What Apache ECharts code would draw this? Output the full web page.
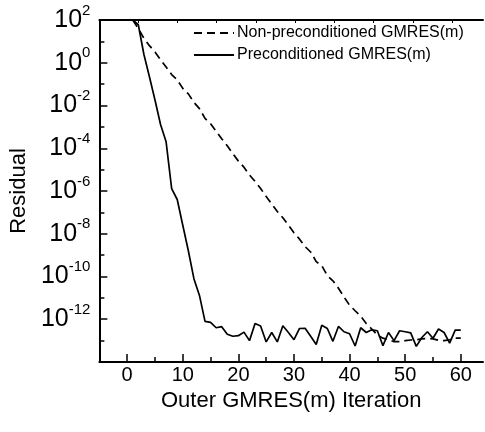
<!DOCTYPE html>
<html>
<head>
<meta charset="utf-8">
<script src="https://cdn.jsdelivr.net/npm/echarts@6/dist/echarts.min.js"></script>
<style>
html,body{margin:0;padding:0;background:#fff;}
#chart{width:485px;height:432px;}
</style>
</head>
<body>
<div id="chart"></div>
<script>
const iterations = [1,2,3,4,5,6,7,8,9,10,11,12,13,14,15,16,17,18,19,20,
  21,22,23,24,25,26,27,28,29,30,31,32,33,34,35,36,37,38,39,40,
  41,42,43,44,45,46,47,48,49,50,51,52,53,54,55,56,57,58,59,60];

const nonPreconditioned = [100,40,14,6.3,3.2,1.4,0.63,0.28,0.16,0.063,
  0.035,0.014,7.1e-3,2.5e-3,1.4e-3,6.3e-4,2.8e-4,1.3e-4,5.6e-5,2.5e-5,
  1.3e-5,5.6e-6,2.8e-6,1.3e-6,5.6e-7,2.5e-7,1.1e-7,5.6e-8,2.5e-8,1.1e-8,
  5.6e-9,2.5e-9,1.4e-9,5.0e-10,3.2e-10,1.1e-10,6.3e-11,2.8e-11,1.1e-11,4.5e-12,
  2.5e-12,1.4e-12,6.3e-13,3.5e-13,1.8e-13,1.3e-13,1.1e-13,8.9e-14,8.9e-14,1.0e-13,
  1.07e-13,1.1e-13,1.2e-13,1.26e-13,1.2e-13,1.05e-13,1.0e-13,1.1e-13,1.3e-13,1.3e-13];

const preconditioned = [100,60,2.5,0.22,0.018,1.3e-3,2.0e-4,1.3e-6,4.0e-7,2.5e-8,
  1.6e-9,7.9e-11,1.3e-11,7.9e-13,7.1e-13,4.0e-13,4.5e-13,2.0e-13,1.6e-13,1.7e-13,
  2.5e-13,1.0e-13,6.3e-13,4.8e-13,8.7e-14,2.4e-13,8.7e-14,5.0e-13,2.4e-13,1.1e-13,
  3.7e-13,3.8e-13,1.6e-13,6.6e-14,5.2e-13,3.7e-13,9.3e-14,4.6e-13,2.6e-13,2.1e-13,
  5.6e-14,4.0e-13,2.4e-13,3.2e-13,2.9e-13,5.8e-14,2.4e-13,1.0e-13,2.9e-13,2.6e-13,
  2.3e-13,5.4e-14,1.4e-13,2.6e-13,1.3e-13,3.5e-13,2.4e-13,7.6e-14,3.1e-13,3.1e-13];

const xMajorTicks = [0,10,20,30,40,50,60];
const xMinorTicks = [5,15,25,35,45,55];
const topTicks = [1,2,3,4,5,6,7,8,9];

const seriesNames = ['Non-preconditioned GMRES(m)', 'Preconditioned GMRES(m)'];

const FONT = "'Liberation Sans', Arial, Helvetica, sans-serif";

function pairs(xs, ys){ return xs.map((x,i)=>[x, ys[i]]); }

const chart = echarts.init(document.getElementById('chart'), null, {renderer:'canvas'});
chart.setOption({
  backgroundColor:'#fff',
  animation:false,
  grid:{left:96, right:2, top:20, bottom:70, containLabel:false},
  legend:{
    orient:'vertical', left:188, top:20,
    itemWidth:40, itemHeight:14, itemGap:6,
    itemStyle:{opacity:0},
    textStyle:{fontFamily:FONT, fontSize:16, color:'#000', padding:[0,0,0,-2]},
    data:seriesNames
  },
  xAxis:[
    {
      type:'value', min:-5, max:64, position:'bottom',
      name:'Outer GMRES(m) Iteration', nameLocation:'middle', nameGap:23,
      nameTextStyle:{fontFamily:FONT, fontSize:22, color:'#000'},
      axisLine:{show:true, onZero:false, lineStyle:{color:'#000', width:2}},
      axisTick:{show:true, inside:true, length:8, customValues:xMajorTicks, lineStyle:{color:'#000', width:1.5}},
      axisLabel:{show:true, customValues:xMajorTicks, margin:3, fontFamily:FONT, fontSize:20, color:'#000'},
      splitLine:{show:false}
    },
    {
      type:'value', min:-5, max:64, position:'bottom',
      axisLine:{show:false, onZero:false},
      axisTick:{show:true, inside:true, length:5, customValues:xMinorTicks, lineStyle:{color:'#000', width:1.5}},
      axisLabel:{show:false},
      splitLine:{show:false}
    },
    {
      type:'value', min:0.015, max:9.79, position:'top',
      axisLine:{show:true, onZero:false, lineStyle:{color:'#000', width:2}},
      axisTick:{show:true, inside:true, length:3, customValues:topTicks, lineStyle:{color:'#000', width:1}},
      axisLabel:{show:false},
      splitLine:{show:false}
    }
  ],
  yAxis:[
    {
      type:'log', logBase:10, min:1e-14, max:1e2, interval:2, position:'left',
      name:'Residual', nameLocation:'middle', nameGap:53, nameRotate:90,
      nameTextStyle:{fontFamily:FONT, fontSize:22, color:'#000'},
      axisLine:{show:true, onZero:false, lineStyle:{color:'#000', width:2}},
      axisTick:{show:true, inside:true, length:8, lineStyle:{color:'#000', width:1.5}},
      axisLabel:{
        show:true, margin:9, color:'#000',
        formatter:function(v){
          const e = Math.round(Math.log10(v));
          if (e === -14) return '';
          return '{a|10}{b|' + e + '}';
        },
        rich:{
          a:{fontFamily:FONT, fontSize:25, lineHeight:34, color:'#000'},
          b:{fontFamily:FONT, fontSize:15, verticalAlign:'top', color:'#000'}
        }
      },
      splitLine:{show:false}
    },
    {
      type:'log', logBase:10, min:1e-14, max:1e2, interval:1, position:'left',
      axisLine:{show:false, onZero:false},
      axisTick:{show:true, inside:true, length:5, lineStyle:{color:'#000', width:1.5}},
      axisLabel:{show:false},
      splitLine:{show:false}
    }
  ],
  series:[
    {
      name:seriesNames[0], type:'line', xAxisIndex:0, yAxisIndex:0,
      data:pairs(iterations, nonPreconditioned),
      symbol:'none', smooth:false,
      lineStyle:{color:'#000', width:1.7, type:[8,5]},
      itemStyle:{color:'#000'}
    },
    {
      name:seriesNames[1], type:'line', xAxisIndex:0, yAxisIndex:0,
      data:pairs(iterations, preconditioned),
      symbol:'none', smooth:false,
      lineStyle:{color:'#000', width:1.7},
      itemStyle:{color:'#000'}
    }
  ]
});
</script>
</body>
</html>
